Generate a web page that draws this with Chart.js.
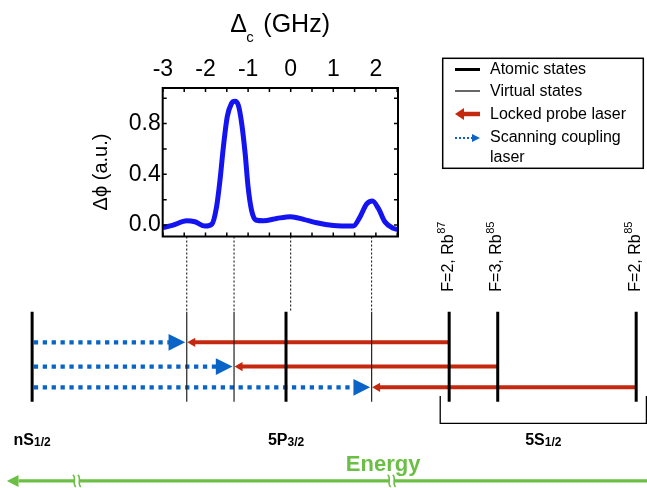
<!DOCTYPE html>
<html>
<head>
<meta charset="utf-8">
<script src="https://cdn.jsdelivr.net/npm/chart.js@4"></script>
<style>
  html, body { margin: 0; padding: 0; background: #fff; }
  #wrap { position: relative; width: 647px; height: 488px; }
  canvas { position: absolute; left: 0; top: 0; }
</style>
</head>
<body>
<div id="wrap">
  <canvas id="diagram" width="647" height="488"></canvas>
  <canvas id="inset" width="647" height="488"></canvas>
</div>
<script>
// phase signal vs coupling detuning (inset)
const detuning = [-3.00, -2.76, -2.44, -2.25, -2.01, -1.85, -1.74, -1.66, -1.58, -1.49, -1.39, -1.31, -1.23, -1.15, -1.07, -1.00, -0.92, -0.82, -0.64, -0.33, 0.00, 0.30, 0.61, 1.00, 1.47, 1.63, 1.78, 1.92, 2.06, 2.21, 2.41, 2.52];
const phase = [-0.02, 0.00, 0.034, 0.026, -0.008, 0.008, 0.144, 0.354, 0.617, 0.853, 0.958, 0.975, 0.945, 0.80, 0.565, 0.30, 0.118, 0.04, 0.034, 0.052, 0.066, 0.045, 0.018, -0.003, -0.008, 0.066, 0.165, 0.19, 0.13, 0.026, -0.026, -0.034];
const xTicks = [-3, -2, -1, 0, 1, 2];
const yTicks = [0.0, 0.4, 0.8];

// level scheme, positions on the same GHz axis
const atomicLevels = [-6.07, -0.11, 3.72, 4.86, 8.11];
const virtualLevels = [-2.44, -1.33, 1.90];
const resonances = [-2.44, -1.33, 0, 1.90];
const probeStart = [3.72, 4.86, 8.11];
const couplingStart = -6.07;
const arrowRows = [1, 2.08, 3];
const groundLabels = [['F=2, Rb', '87'], ['F=3, Rb', '85'], ['F=2, Rb', '85']];
const stateLabels = [['nS', '1/2', -6.07], ['5P', '3/2', -0.11], ['5S', '1/2', 5.93]];

const FONT = "'Liberation Sans', Arial, Helvetica, sans-serif";
Chart.defaults.font.family = FONT;
Chart.defaults.color = '#000';

const RED = '#c4290f';
const BLUE = '#0a64c8';
const GREEN = '#6cbf45';

// layout on the diagram's row axis
const LEVEL_TOP = -0.36, LEVEL_BOTTOM = 3.64, LINK_TOP = -3.70;
const BR_TOP = 3.39, BR_BOTTOM = 4.60, BR_LEFT = 3.51, BR_RIGHT = 8.35;
const ENERGY_ROW = 7.16, ENERGY_LEFT = -6.39, ENERGY_RIGHT = 8.40;

function seg(pts, color, width, dash) {
  return {
    data: pts.map(p => ({ x: p[0], y: p[1] })),
    borderColor: color,
    borderWidth: width,
    borderDash: dash || [],
    borderCapStyle: 'butt',
    pointRadius: 0,
    tension: 0,
    fill: false
  };
}

const datasets = [];
atomicLevels.forEach(x => datasets.push(seg([[x, LEVEL_TOP], [x, LEVEL_BOTTOM]], '#000', 3)));
virtualLevels.forEach(x => datasets.push(seg([[x, LEVEL_TOP], [x, LEVEL_BOTTOM]], '#222', 1.2)));
resonances.forEach(x => datasets.push(seg([[x, LINK_TOP], [x, LEVEL_TOP]], '#000', 1, [2, 2])));
virtualLevels.forEach((x, i) => {
  datasets.push(seg([[probeStart[i], arrowRows[i]], [x + 0.1, arrowRows[i]]], RED, 4));
  datasets.push(seg([[couplingStart + 0.04, arrowRows[i]], [x - 0.4, arrowRows[i]]], BLUE, 4.3, [4.3, 4.6]));
});
datasets.push(seg([[BR_LEFT, BR_TOP], [BR_LEFT, BR_BOTTOM], [BR_RIGHT, BR_BOTTOM], [BR_RIGHT, BR_TOP]], '#000', 1.3));
datasets.push(seg([[ENERGY_LEFT, ENERGY_ROW], [ENERGY_RIGHT, ENERGY_ROW]], GREEN, 3.3));

function tri(ctx, tipX, y, len, half, dir, color) {
  ctx.fillStyle = color;
  ctx.beginPath();
  ctx.moveTo(tipX, y);
  ctx.lineTo(tipX - dir * len, y - half);
  ctx.lineTo(tipX - dir * len, y + half);
  ctx.closePath();
  ctx.fill();
}

function subText(ctx, main, sub, cx, base, size, subSize, weight) {
  ctx.font = weight + ' ' + size + 'px ' + FONT;
  const w1 = ctx.measureText(main).width;
  ctx.font = weight + ' ' + subSize + 'px ' + FONT;
  const w2 = ctx.measureText(sub).width;
  const x0 = cx - (w1 + w2) / 2;
  ctx.textAlign = 'left';
  ctx.textBaseline = 'alphabetic';
  ctx.font = weight + ' ' + size + 'px ' + FONT;
  ctx.fillText(main, x0, base);
  ctx.font = weight + ' ' + subSize + 'px ' + FONT;
  ctx.fillText(sub, x0 + w1, base + 1.5);
}

const diagramDecor = {
  id: 'diagramDecor',
  afterDatasetsDraw(chart) {
    const { ctx, scales: { x, y } } = chart;
    ctx.save();
    // arrow heads
    virtualLevels.forEach((v, i) => {
      const py = y.getPixelForValue(arrowRows[i]);
      const px = x.getPixelForValue(v);
      tri(ctx, px + 0.5, py, 8, 4.6, -1, RED);
      tri(ctx, px - 1.5, py, 16.7, 8.4, 1, BLUE);
    });
    // energy axis head and breaks
    const ey = y.getPixelForValue(ENERGY_ROW);
    const ex = x.getPixelForValue(ENERGY_LEFT);
    tri(ctx, ex - 11.6, ey, 11.6, 6, -1, GREEN);
    [-5.02, 2.37].forEach(b => {
      const bx = x.getPixelForValue(b);
      ctx.fillStyle = '#fff';
      ctx.fillRect(bx - 2.5, ey - 3, 5, 6);
      ctx.strokeStyle = GREEN;
      ctx.lineWidth = 1.6;
      [-2.5, 2.5].forEach(o => {
        ctx.beginPath();
        ctx.moveTo(bx + o - 1.5, ey - 6);
        ctx.bezierCurveTo(bx + o + 2.5, ey - 3, bx + o - 2.5, ey + 3, bx + o + 1.5, ey + 6);
        ctx.stroke();
      });
    });
    // hyperfine labels
    ctx.fillStyle = '#000';
    groundLabels.forEach((lab, i) => {
      const px = x.getPixelForValue(atomicLevels[i + 2]) - 1;
      const py = y.getPixelForValue(-1.25);
      ctx.save();
      ctx.translate(px, py);
      ctx.rotate(-Math.PI / 2);
      ctx.textAlign = 'left';
      ctx.textBaseline = 'middle';
      ctx.font = '16px ' + FONT;
      ctx.fillText(lab[0], 0, 0);
      const w = ctx.measureText(lab[0]).width;
      ctx.font = '11px ' + FONT;
      ctx.fillText(lab[1], w + 0.5, -6);
      ctx.restore();
    });
    // state labels
    const sb = y.getPixelForValue(5.56);
    stateLabels.forEach(s => subText(ctx, s[0], s[1], x.getPixelForValue(s[2]), sb, 16, 12, 'bold'));
    // energy caption
    ctx.fillStyle = GREEN;
    ctx.font = 'bold 22px ' + FONT;
    ctx.textAlign = 'center';
    ctx.textBaseline = 'alphabetic';
    ctx.fillText('Energy', x.getPixelForValue(2.17), y.getPixelForValue(6.72));
    // legend
    ctx.strokeStyle = '#000';
    ctx.lineWidth = 1.5;
    ctx.strokeRect(442.7, 58.3, 200.6, 110);
    ctx.lineWidth = 3;
    ctx.beginPath(); ctx.moveTo(455, 69.5); ctx.lineTo(480, 69.5); ctx.stroke();
    ctx.lineWidth = 1.2;
    ctx.beginPath(); ctx.moveTo(455, 91); ctx.lineTo(480, 91); ctx.stroke();
    ctx.strokeStyle = RED;
    ctx.lineWidth = 4.5;
    ctx.beginPath(); ctx.moveTo(462, 114); ctx.lineTo(480, 114); ctx.stroke();
    tri(ctx, 455, 114, 9, 6, -1, RED);
    ctx.strokeStyle = BLUE;
    ctx.lineWidth = 2.2;
    ctx.setLineDash([2, 2]);
    ctx.beginPath(); ctx.moveTo(455, 138); ctx.lineTo(472, 138); ctx.stroke();
    ctx.setLineDash([]);
    tri(ctx, 480, 138, 8, 4, 1, BLUE);
    ctx.fillStyle = '#000';
    ctx.font = '16px ' + FONT;
    ctx.textAlign = 'left';
    ctx.textBaseline = 'middle';
    ctx.fillText('Atomic states', 490, 70);
    ctx.fillText('Virtual states', 490, 92);
    ctx.fillText('Locked probe laser', 490, 114.5);
    ctx.fillText('Scanning coupling', 490, 137.5);
    ctx.fillText('laser', 490, 157.5);
    ctx.restore();
  }
};

new Chart(document.getElementById('diagram'), {
  type: 'line',
  data: { datasets: datasets },
  options: {
    responsive: false,
    animation: false,
    layout: { padding: 0 },
    plugins: { legend: { display: false }, tooltip: { enabled: false } },
    scales: {
      x: { type: 'linear', display: false, min: -6.824, max: 8.364 },
      y: { type: 'linear', display: false, reverse: true, min: -14.213, max: 7.476 }
    }
  },
  plugins: [diagramDecor]
});

const insetFrame = {
  id: 'insetFrame',
  afterDraw(chart) {
    const { ctx, chartArea: a, scales: { x, y } } = chart;
    ctx.save();
    ctx.strokeStyle = '#000';
    ctx.lineWidth = 1.5;
    ctx.beginPath();
    for (let v = -3; v <= 2.51; v += 0.5) {
      const px = x.getPixelForValue(v);
      ctx.moveTo(px, a.top); ctx.lineTo(px, a.top + 4);
      ctx.moveTo(px, a.bottom); ctx.lineTo(px, a.bottom - 4);
    }
    for (let v = 0; v <= 1.001; v += 0.2) {
      const py = y.getPixelForValue(v);
      ctx.moveTo(a.left, py); ctx.lineTo(a.left + 4, py);
      ctx.moveTo(a.right, py); ctx.lineTo(a.right - 4, py);
    }
    ctx.stroke();
    ctx.lineWidth = 2;
    ctx.strokeRect(a.left, a.top, a.right - a.left, a.bottom - a.top);
    // axis titles
    ctx.fillStyle = '#000';
    ctx.textAlign = 'left';
    ctx.textBaseline = 'alphabetic';
    const cx = (a.left + a.right) / 2;
    ctx.font = '25px ' + FONT;
    ctx.fillText('\u0394', cx - 50, 31.5);
    ctx.fillText('(GHz)', cx - 17, 31.5);
    ctx.font = '15px ' + FONT;
    ctx.fillText('c', cx - 34, 41.5);
    ctx.save();
    ctx.translate(101, 172);
    ctx.rotate(-Math.PI / 2);
    ctx.textAlign = 'center';
    ctx.textBaseline = 'middle';
    ctx.font = '20px ' + FONT;
    ctx.fillText('\u0394\u03d5 (a.u.)', 0, 0);
    ctx.restore();
    ctx.restore();
  }
};

new Chart(document.getElementById('inset'), {
  type: 'line',
  data: {
    datasets: [{
      data: detuning.map((d, i) => ({ x: d, y: phase[i] })),
      borderColor: '#1414f0',
      borderWidth: 5,
      pointRadius: 0,
      cubicInterpolationMode: 'monotone',
      fill: false
    }]
  },
  options: {
    responsive: false,
    animation: false,
    layout: { padding: { left: 0, top: 0, right: 249, bottom: 251.5 } },
    plugins: { legend: { display: false }, tooltip: { enabled: false } },
    scales: {
      x: {
        type: 'linear', position: 'top', min: -3.005, max: 2.519,
        afterBuildTicks: s => { s.ticks = xTicks.map(v => ({ value: v })); },
        afterFit: s => { s.height = 88; },
        grid: { display: false, drawTicks: false },
        border: { display: false },
        ticks: { font: { size: 23 }, color: '#000', padding: 5, maxRotation: 0, autoSkip: false }
      },
      y: {
        type: 'linear', min: -0.09, max: 1.08,
        afterBuildTicks: s => { s.ticks = yTicks.map(v => ({ value: v })); },
        afterFit: s => { s.width = 162.7; },
        grid: { display: false, drawTicks: false },
        border: { display: false },
        ticks: { font: { size: 23 }, color: '#000', padding: 2, callback: v => Number(v).toFixed(1) }
      }
    }
  },
  plugins: [insetFrame]
});
</script>
</body>
</html>
